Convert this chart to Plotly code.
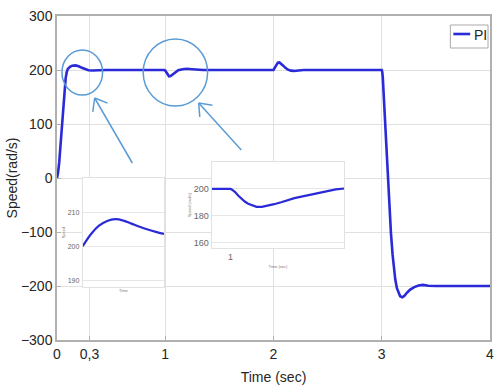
import math
import plotly.graph_objects as go

# ---------------- data ----------------
time_s = [0, 0.01, 0.02, 0.03, 0.04, 0.05, 0.06, 0.07, 0.08, 0.09, 0.10, 0.12, 0.14, 0.17, 0.2,
          0.23, 0.26, 0.29, 0.33, 0.38, 0.45,
          0.99, 1.0, 1.01, 1.02, 1.035, 1.05, 1.07, 1.09, 1.12, 1.16, 1.2, 1.25, 1.3, 1.35,
          2.0, 2.01, 2.025, 2.04, 2.055, 2.07, 2.09, 2.11, 2.13, 2.16, 2.19, 2.23, 2.28,
          3.0, 3.005, 3.01, 3.02, 3.03, 3.045, 3.06, 3.07, 3.085, 3.1, 3.11, 3.125, 3.14, 3.155,
          3.17, 3.19, 3.21, 3.23, 3.26, 3.3, 3.34, 3.38, 3.43, 3.5, 4.0]
speed_pi = [0, 10, 28, 55, 85, 115, 145, 168, 185, 196, 202, 206, 208, 208.5, 207,
            204, 201, 199.5, 199, 199.5, 200,
            200, 199, 196, 192, 188.5, 189, 192, 196, 199.5, 201.5, 202.3, 201.5, 200.5, 200,
            200, 204, 210, 213.5, 214, 212, 208, 204, 201, 198.8, 198.3, 199.2, 200,
            200, 196, 185, 145, 110, 52, 0, -41, -102, -142, -164, -188, -204, -213,
            -219, -221, -218, -213, -207, -202, -199, -198, -199.5, -200, -200]

zoom1_t = [0.2, 0.23, 0.26, 0.29, 0.32, 0.35, 0.38, 0.41, 0.44, 0.47, 0.5]
zoom1_v = [200, 203.5, 206, 207.4, 207.9, 207.5, 206.6, 205.7, 204.9, 204.2, 203.6]

zoom2_t = [0.9, 0.95, 1.0, 1.01, 1.024, 1.04, 1.058, 1.075, 1.093, 1.115, 1.137, 1.165, 1.198,
           1.23, 1.267, 1.3, 1.337, 1.38, 1.424, 1.465, 1.511, 1.555, 1.6]
zoom2_v = [200, 200, 200, 199.2, 197.6, 195.0, 192.7, 190.6, 189, 187.5, 186.6, 186.6, 187.4,
           188.6, 190, 191.5, 193.1, 194.4, 195.8, 197.2, 198.6, 199.6, 200.3]

x_ticks = [0, 0.3, 1, 2, 3, 4]
x_ticktext = ["0", "0,3", "1", "2", "3", "4"]
y_ticks = [-300, -200, -100, 0, 100, 200, 300]

# ---------------- geometry helpers ----------------
W, H = 497, 392
L, R, T, B = 57, 3, 16, 52
PW, PH = W - L - R, H - T - B
XR = [0, 4]
YR = [-300, 300]


def px2x(px):
    return XR[0] + (px - L) / PW * (XR[1] - XR[0])


def py2y(py):
    return YR[1] - (py - T) / PH * (YR[1] - YR[0])


def pdom_x(a, b):
    return [(a - L) / PW, (b - L) / PW]


def pdom_y(top, bottom):
    return [(H - B - bottom) / PH, (H - B - top) / PH]


LINE_BLUE = "#2a2ad8"
ANN_BLUE = "#5b9bd5"
FONT = "Liberation Sans, Arial, sans-serif"
TXT = "#262626"

fig = go.Figure()
fig.add_trace(go.Scatter(x=time_s, y=speed_pi, mode="lines", name="PI",
                         line=dict(color=LINE_BLUE, width=2.6),
                         showlegend=False))
fig.add_trace(go.Scatter(x=zoom1_t, y=zoom1_v, mode="lines", xaxis="x2", yaxis="y2",
                         line=dict(color=LINE_BLUE, width=2.2, shape="spline"), showlegend=False))
fig.add_trace(go.Scatter(x=zoom2_t, y=zoom2_v, mode="lines", xaxis="x3", yaxis="y3",
                         line=dict(color=LINE_BLUE, width=2.2), showlegend=False))

grid = "#e0e0e0"
frame = "#b0b0b0"

layout = dict(
    width=W, height=H,
    margin=dict(l=L, r=R, t=T, b=B),
    paper_bgcolor="white", plot_bgcolor="white",
    font=dict(family=FONT, color=TXT, size=14),
    xaxis=dict(range=XR, tickvals=x_ticks, ticktext=x_ticktext, showgrid=True, gridcolor=grid,
               zeroline=False, showline=True, linecolor=frame, linewidth=1.5, mirror=True,
               ticks="inside", ticklen=4, tickcolor=frame,
               title=dict(text="Time (sec)", standoff=12, font=dict(size=14, color=TXT)),
               tickfont=dict(size=14, color=TXT)),
    yaxis=dict(range=YR, tickvals=y_ticks, showgrid=True, gridcolor=grid, zeroline=False,
               showline=True, linecolor=frame, linewidth=1.5, mirror=True,
               ticks="inside", ticklen=4, tickcolor=frame,
               title=dict(text="Speed(rad/s)", standoff=0, font=dict(size=14, color=TXT)),
               tickfont=dict(size=14, color=TXT)),
    # inset 1
    xaxis2=dict(domain=pdom_x(83, 165), anchor="y2", range=[0.2, 0.5], showticklabels=False,
                showgrid=False, zeroline=False, showline=True, linecolor="#e2e2e2", mirror=True,
                title=dict(text="Time", standoff=2, font=dict(size=4, color="#777"))),
    yaxis2=dict(domain=pdom_y(178, 287), anchor="x2", range=[188, 220], tickvals=[190, 200, 210],
                showgrid=True, gridcolor="#e6e6e6", zeroline=False, showline=True,
                linecolor="#e2e2e2", mirror=True, tickfont=dict(size=7, color="#666"),
                ticklabelstandoff=1,
                title=dict(text="Speed", standoff=2, font=dict(size=4, color="#777"))),
    # inset 2
    xaxis3=dict(domain=pdom_x(213, 347), anchor="y3", range=[0.9, 1.6], tickvals=[1],
                showgrid=False, zeroline=False, showline=True, linecolor="#e2e2e2", mirror=True,
                tickfont=dict(size=9, color="#666"),
                title=dict(text="Time (sec)", standoff=4, font=dict(size=4, color="#777"))),
    yaxis3=dict(domain=pdom_y(162, 248), anchor="x3", range=[156, 220], tickvals=[160, 180, 200],
                showgrid=True, gridcolor="#e6e6e6", zeroline=False, showline=True,
                linecolor="#e2e2e2", mirror=True, tickfont=dict(size=9, color="#666"),
                title=dict(text="Speed (rad/s)", standoff=2, font=dict(size=4, color="#777"))),
)
fig.update_layout(**layout)

shapes = []
# circles
for (x0, x1, y0, y1) in [(62, 103, 50, 95), (144, 209, 39, 106)]:
    shapes.append(dict(type="circle", xref="x", yref="y", x0=px2x(x0), x1=px2x(x1),
                       y0=py2y(y1), y1=py2y(y0), line=dict(color=ANN_BLUE, width=1.5)))

# arrows (drawn as line + open V head)
for (tx, ty, hx, hy) in [(133, 163, 95, 98), (243, 150, 200, 103)]:
    shapes.append(dict(type="line", xref="x", yref="y", x0=px2x(tx), y0=py2y(ty),
                       x1=px2x(hx), y1=py2y(hy), line=dict(color=ANN_BLUE, width=1.5)))
    ang = math.atan2(ty - hy, tx - hx)
    for s in (-1, 1):
        a = ang + s * math.radians(38)
        wx, wy = hx + 14 * math.cos(a), hy + 14 * math.sin(a)
        shapes.append(dict(type="line", xref="x", yref="y", x0=px2x(hx), y0=py2y(hy),
                           x1=px2x(wx), y1=py2y(wy), line=dict(color=ANN_BLUE, width=1.5)))

# legend box
shapes.append(dict(type="rect", xref="paper", yref="paper",
                   x0=(454 - L) / PW, x1=(492 - L) / PW,
                   y0=(H - B - 48) / PH, y1=(H - B - 25) / PH,
                   line=dict(color="#aaaaaa", width=1), fillcolor="white"))
shapes.append(dict(type="line", xref="paper", yref="paper",
                   x0=(457 - L) / PW, x1=(474 - L) / PW,
                   y0=(H - B - 34) / PH, y1=(H - B - 34) / PH,
                   line=dict(color=LINE_BLUE, width=2.6)))
fig.update_layout(shapes=shapes)

fig.add_annotation(xref="paper", yref="paper", x=(476 - L) / PW, y=(H - B - 35) / PH,
                   text="PI", showarrow=False, xanchor="left", yanchor="middle",
                   font=dict(size=14, color=TXT, family=FONT))

fig.write_html("out.html")
